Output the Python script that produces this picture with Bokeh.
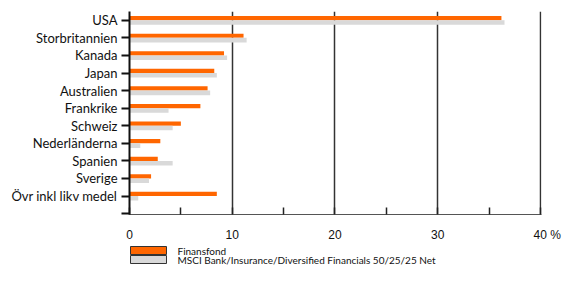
from bokeh.plotting import figure
from bokeh.layouts import column
from bokeh.models import Range1d, FixedTicker
from bokeh.core.properties import value
from bokeh.embed import file_html
from bokeh.resources import INLINE

categories = ["USA", "Storbritannien", "Kanada", "Japan", "Australien", "Frankrike",
              "Schweiz", "Nederländerna", "Spanien", "Sverige", "Övr inkl likv medel"]
finansfond = [36.2, 11.1, 9.2, 8.25, 7.6, 6.9, 5.0, 3.0, 2.75, 2.1, 8.5]
msci = [36.5, 11.4, 9.5, 8.5, 7.85, 3.8, 4.2, 1.05, 4.2, 1.9, 0.85]
series_names = ["Finansfond", "MSCI Bank/Insurance/Diversified Financials 50/25/25 Net"]
x_ticks = [0, 5, 10, 15, 20, 25, 30, 35, 40]
NB = "\u00a0"
x_tick_labels = ["0", "", "10", "", "20", "", "30", "", NB * 4 + "40" + NB + "%"]
grid_ticks = [10, 20, 30, 40]

ORANGE = "#FF6600"
GRAY = "#D9D9D9"
SERIES_COLORS = [ORANGE, GRAY]

W = 562
LEFT, RIGHT = 129, 21
MAIN_H, LEG_H = 244, 21

pos = list(range(len(categories)))
y_orange = [i - 0.12 for i in pos]
y_gray = [i + 0.13 for i in pos]

p = figure(width=W, height=MAIN_H, output_backend="svg", toolbar_location=None,
           x_range=Range1d(0, 40.1), y_range=Range1d(11.05, -0.5),
           min_border_left=LEFT, min_border_right=RIGHT, min_border_top=11, min_border_bottom=28)
p.outline_line_color = None
p.background_fill_color = "white"

p.hbar(y=y_orange, left=0, right=finansfond, height=0.24, fill_color=ORANGE, line_color=None)
p.hbar(y=y_gray, left=0, right=msci, height=0.26, fill_color=GRAY, line_color=None)

# x axis
xa = p.xaxis[0]
xa.ticker = FixedTicker(ticks=x_ticks)
xa.major_label_overrides = {t: l for t, l in zip(x_ticks, x_tick_labels)}
xa.minor_tick_line_color = None
xa.major_tick_in = 7
xa.major_tick_out = 0
xa.major_tick_line_color = "#222222"
xa.major_tick_line_width = 1.5
xa.axis_line_color = "#555555"
xa.axis_line_width = 1
xa.major_label_standoff = 13
xa.major_label_text_font = "Liberation Sans"
xa.major_label_text_font_size = "12px"
xa.major_label_text_color = "#111111"

# y axis
ya = p.yaxis[0]
ya.ticker = FixedTicker(ticks=pos + [11])
ya.major_label_overrides = {**{i: c for i, c in zip(pos, categories)}, 11: ""}
ya.minor_tick_line_color = None
ya.major_tick_in = 0
ya.major_tick_out = 8
ya.major_tick_line_width = 2
ya.major_tick_line_color = "#111111"
ya.axis_line_color = "#111111"
ya.axis_line_width = 2
ya.major_label_standoff = 4
ya.major_label_text_font = "Lato"
ya.major_label_text_font_size = "13px"
ya.major_label_text_color = "#111111"

# grid
p.ygrid.grid_line_color = None
p.xgrid.ticker = FixedTicker(ticks=grid_ticks)
p.xgrid.grid_line_color = "#333333"
p.xgrid.grid_line_width = 1.5

# legend strip (pixel-unit coordinates relative to the aligned frame)
FW = W - LEFT - RIGHT
lg = figure(width=W, height=LEG_H, output_backend="svg", toolbar_location=None,
            x_range=Range1d(0, FW), y_range=Range1d(LEG_H, 0),
            min_border_left=LEFT, min_border_right=RIGHT, min_border_top=0, min_border_bottom=0,
            x_axis_type=None, y_axis_type=None)
lg.outline_line_color = None
lg.xgrid.visible = False
lg.ygrid.visible = False
sw_y = [6, 15]
lg.rect(x=[19, 19], y=sw_y, width=36, height=8, fill_color=SERIES_COLORS,
        line_color="#333333", line_width=1)
lg.text(x=[48, 48], y=sw_y, text=series_names, text_font=value("Lato"),
        text_font_size="10px", text_baseline="middle", text_align="left", text_color="#111111")

open("out.html", "w").write(file_html(column(p, lg, spacing=0), INLINE))
